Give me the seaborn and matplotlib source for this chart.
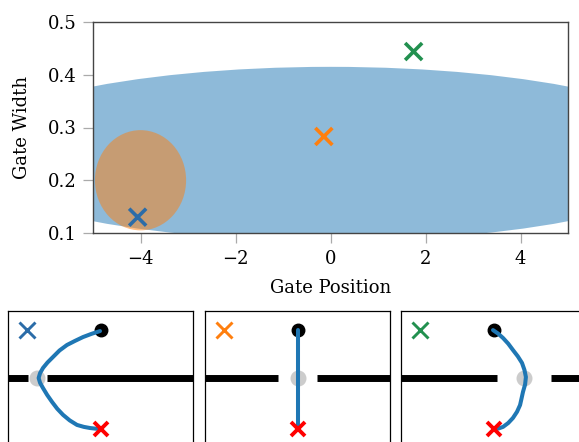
import numpy as np
import pandas as pd
import matplotlib
matplotlib.use("Agg")
import matplotlib.pyplot as plt
from matplotlib.patches import Ellipse
import seaborn as sns

sns.set_theme(style="ticks")
plt.rcParams["font.family"] = ["DejaVu Serif"]
plt.rcParams["font.size"] = 13
plt.rcParams["axes.labelsize"] = 13
plt.rcParams["xtick.labelsize"] = 13
plt.rcParams["ytick.labelsize"] = 13
plt.rcParams["text.color"] = "black"
plt.rcParams["axes.labelcolor"] = "black"

# ---- data ----
gate_names = ["g1", "g2", "g3"]
gate_pos = [-4.06, -0.14, 1.75]
gate_width = [0.13, 0.283, 0.444]
gate_colors = ["#2b6ca8", "#ff7f0e", "#22904f"]

blue_center = (0.0, 0.25)
blue_size = (15.8, 0.33)
orange_center = (-4.0, 0.2)
orange_size = (1.92, 0.19)

# bottom panels (gate at y = 0)
start_xy = (-0.15, 2.96)
goal_xy = (-0.15, -3.15)
gap_half = [0.59, 1.2, 1.67]
traj_x = [
    [-0.18, -0.70, -1.23, -1.73, -2.22, -2.68, -3.08, -3.42, -3.70, -3.88, -3.97,
     -3.88, -3.70, -3.44, -3.14, -2.82, -2.46, -2.05, -1.60, -1.18, -0.80, -0.45, -0.18],
    [-0.15, -0.15, -0.15],
    [-0.18, 0.14, 0.44, 0.76, 1.05, 1.35, 1.61, 1.76, 1.85, 1.80, 1.67, 1.58, 1.49,
     1.30, 1.05, 0.76, 0.44, 0.16, -0.06],
]
traj_y = [
    [2.90, 2.73, 2.53, 2.29, 2.04, 1.70, 1.30, 0.96, 0.62, 0.30, 0.0,
     -0.30, -0.62, -1.05, -1.48, -1.90, -2.28, -2.62, -2.90, -3.02, -3.09, -3.13, -3.15],
    [2.96, 0.0, -3.15],
    [2.96, 2.74, 2.47, 2.12, 1.73, 1.34, 0.93, 0.50, 0.06, -0.40, -0.86, -1.27, -1.67,
     -2.09, -2.47, -2.78, -3.02, -3.12, -3.15],
]

fig = plt.figure(figsize=(5.79, 4.42), dpi=100)

# ---- top chart ----
ax = fig.add_axes([93 / 579, 1 - 233 / 442, 475 / 579, 211 / 442])
ax.add_patch(Ellipse(blue_center, *blue_size, color="#1f77b4", alpha=0.5, lw=0))
ax.add_patch(Ellipse(orange_center, *orange_size, color="#ff7f0e", alpha=0.5, lw=0))

df = pd.DataFrame({"pos": gate_pos, "width": gate_width, "gate": gate_names})
sns.scatterplot(data=df, x="pos", y="width", hue="gate", palette=gate_colors,
                marker="x", s=150, linewidth=2.6, legend=False, ax=ax, zorder=3)

ax.set_xlim(-5, 5)
ax.set_ylim(0.1, 0.5)
ax.set_xticks([-4, -2, 0, 2, 4])
ax.set_yticks([0.1, 0.2, 0.3, 0.4, 0.5])
ax.set_xlabel("Gate Position")
ax.set_ylabel("Gate Width")
ax.xaxis.set_label_coords(0.5, -0.218)
ax.yaxis.set_label_coords(-0.13, 0.5)
for s in ax.spines.values():
    s.set_visible(True)
    s.set_color("#444444")
    s.set_linewidth(1.0)
ax.tick_params(length=7, width=0.9, color="#aaaaaa", pad=5, labelcolor="black")

# ---- bottom panels ----
panel_left = [8, 205, 401]
half_w, half_h = 5.71, 4.14
for i, left in enumerate(panel_left):
    pa = fig.add_axes([left / 579, -3 / 442, 185 / 579, 134 / 442])
    x0, x1 = start_xy[0] - half_w, start_xy[0] + half_w
    p, g = gate_pos[i], gap_half[i]
    pa.plot([x0, p - g], [0, 0], color="black", lw=5, solid_capstyle="butt", zorder=1)
    pa.plot([p + g, x1], [0, 0], color="black", lw=5, solid_capstyle="butt", zorder=1)
    pa.plot(p, 0, "o", color="#cccccc", ms=10.5, zorder=2)
    pa.plot(*start_xy, "o", color="black", ms=9, zorder=3)
    sns.lineplot(x=traj_x[i], y=traj_y[i], sort=False, estimator=None,
                 color="#1f77b4", lw=2.9, ax=pa, zorder=4)
    pa.plot(*goal_xy, "x", color="#ff0000", ms=10, mew=2.8, zorder=5)
    pa.plot(0.1, 0.858, "x", color=gate_colors[i], ms=11, mew=2.1,
            transform=pa.transAxes, zorder=5)
    pa.set_xlim(x0, x1)
    pa.set_ylim(-half_h, half_h)
    pa.set_xticks([])
    pa.set_yticks([])
    for s in pa.spines.values():
        s.set_visible(True)
        s.set_color("black")
        s.set_linewidth(0.9)

fig.savefig("out.png", dpi=100)
